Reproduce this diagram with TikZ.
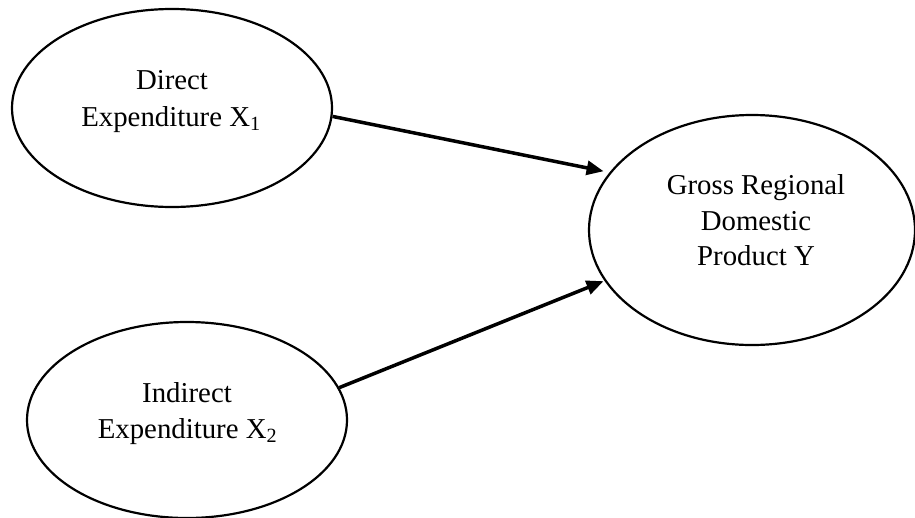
\documentclass[tikz,border=0pt]{standalone}
\usepackage{fontspec}
\setmainfont{Liberation Serif}
\usetikzlibrary{arrows.meta,shapes.geometric}
\begin{document}
\begin{tikzpicture}[x=1pt,y=-1pt,
  ell/.style={draw, line width=2.2pt, ellipse, inner sep=0pt},
  txt/.style={anchor=base, inner sep=0pt, font=\fontsize{28.8}{37}\selectfont},
  arr/.style={-{Triangle[length=17pt,width=14pt]}, line width=3.5pt}]
\useasboundingbox (0,0) rectangle (915,517);
\node[ell, minimum width=320pt, minimum height=198pt] (e1) at (172,108) {};
\node[ell, minimum width=320pt, minimum height=196pt] (e2) at (187,420) {};
\node[ell, minimum width=326pt, minimum height=230pt] (e3) at (752,230) {};
\node[txt] (t11) at (172,89) {Direct};
\node[txt] (t12) at (171,126) {Expenditure X\textsubscript{1}};
\node[txt] (t21) at (187,402) {Indirect};
\node[txt] (t22) at (187.5,438) {Expenditure X\textsubscript{2}};
\node[txt] (t31) at (756,194) {Gross Regional};
\node[txt] (t32) at (756,230) {Domestic};
\node[txt] (t33) at (756,265) {Product Y};
\draw[arr, shorten >=6pt] (e1.-3) -- (e3.158.5);
\draw[arr, shorten >=1pt] (e2.12) -- (e3.199.5);
\end{tikzpicture}
\end{document}
